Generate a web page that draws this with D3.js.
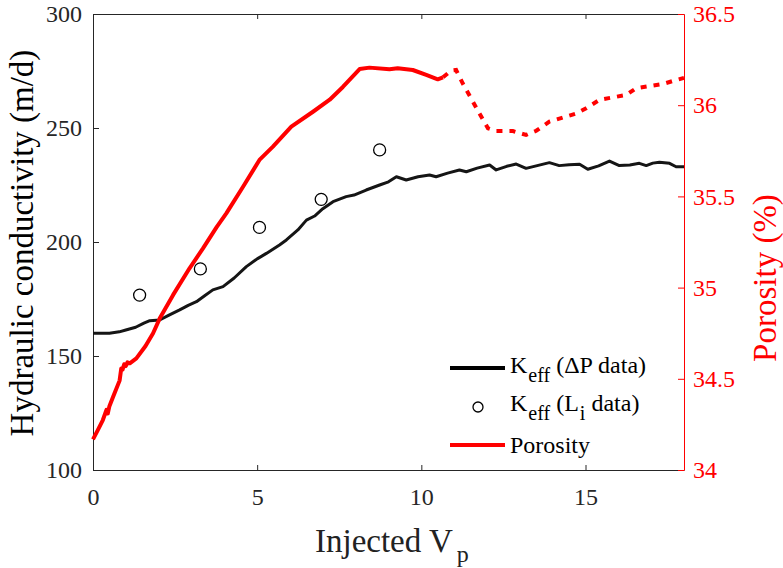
<!DOCTYPE html>
<html>
<head>
<meta charset="utf-8">
<script src="https://cdn.jsdelivr.net/npm/d3@7"></script>
</head>
<body style="margin:0">
<svg id="chart" width="783" height="568"></svg>
<script>
// Injected pore volumes vs. effective hydraulic conductivity and porosity

// K_eff from pressure-drop data: [injected Vp, K (m/d)]
const keffDP = [
  [0, 160], [0.5, 160], [0.8, 160.6], [1.0, 161.4], [1.3, 162.6], [1.55, 164.4], [1.73, 165.5],
  [2.03, 165.8], [2.3, 167.8], [2.64, 170.2], [2.9, 172.2], [3.15, 173.8], [3.4, 176.4],
  [3.65, 179], [3.96, 180.4], [4.3, 184.2], [4.67, 189.2], [5.0, 192.6], [5.28, 195],
  [5.68, 198.7], [5.89, 200.9], [6.24, 205.3], [6.5, 209.6], [6.75, 211.4], [7.0, 214.6],
  [7.31, 217.7], [7.71, 219.9], [7.95, 220.6], [8.32, 222.8], [8.73, 225], [9.0, 226.4],
  [9.24, 228.6], [9.54, 227.2], [9.9, 228.6], [10.25, 229.4], [10.45, 228.6], [10.8, 230.2],
  [11.16, 231.6], [11.37, 230.8], [11.7, 232.4], [12.08, 233.8], [12.28, 231.6],
  [12.6, 233.2], [12.89, 234.2], [13.19, 232.3], [13.5, 233.4], [13.9, 234.8], [14.2, 233.5],
  [14.5, 233.9], [14.82, 234.1], [15.07, 231.9], [15.4, 233.4], [15.73, 235.5], [16.03, 233.5],
  [16.35, 233.8], [16.64, 234.5], [16.85, 233.5], [17.05, 234.6], [17.25, 235], [17.56, 234.5],
  [17.76, 233], [18, 233]
];

// K_eff from L_i data: [injected Vp, K (m/d)]
const keffLi = [
  [1.42, 176.7], [3.27, 188.2], [5.07, 206.4], [6.95, 218.7], [8.73, 240.4]
];

// Porosity, measured segment: [injected Vp, porosity (%)]
const porosityMeasured = [
  [0, 34.168], [0.15, 34.22], [0.30, 34.274], [0.41, 34.33], [0.45, 34.31], [0.5, 34.35],
  [0.61, 34.40], [0.81, 34.49], [0.86, 34.557], [0.9, 34.55], [0.95, 34.58], [1.0, 34.57],
  [1.05, 34.59], [1.12, 34.585], [1.32, 34.612], [1.6, 34.68], [1.83, 34.75], [2.03, 34.83],
  [2.44, 34.96], [2.94, 35.106], [3.35, 35.215], [3.76, 35.33], [4.06, 35.407],
  [4.57, 35.553], [5.07, 35.70], [5.48, 35.773], [6.04, 35.882], [6.70, 35.964],
  [7.21, 36.03], [7.61, 36.10], [8.12, 36.198], [8.42, 36.206], [9.03, 36.197],
  [9.28, 36.202], [9.74, 36.193], [10.15, 36.166], [10.50, 36.142], [10.66, 36.153]
];

// Porosity, later segment (dotted): [injected Vp, porosity (%)]
const porosityLater = [
  [10.66, 36.153], [10.91, 36.19], [11.06, 36.193], [11.26, 36.12], [11.77, 35.955],
  [12.03, 35.873], [12.28, 35.858], [12.79, 35.858], [13.19, 35.837], [13.50, 35.86],
  [13.9, 35.91], [14.72, 35.955], [15.02, 35.983], [15.43, 36.03], [16.24, 36.056],
  [16.54, 36.093], [17.35, 36.116], [17.76, 36.138], [18, 36.15]
];

const xTicks = [0, 5, 10, 15];
const yLeftTicks = [100, 150, 200, 250, 300];
const yRightTicks = [34, 34.5, 35, 35.5, 36, 36.5];

const RED = "#ff0000";
const AXIS = "#262626";
const FONT = "Liberation Serif";

const svg = d3.select("#chart");
const plotL = 93, plotR = 684, plotT = 14, plotB = 470;

const x = d3.scaleLinear().domain([0, 18]).range([plotL, plotR]);
const yL = d3.scaleLinear().domain([100, 300]).range([plotB, plotT]);
const yR = d3.scaleLinear().domain([34, 36.5]).range([plotB, plotT]);

// Every text element gets the serif family directly
function serif(sel, size) {
  return sel.attr("font-family", FONT).style("font-family", FONT).style("font-size", size + "px");
}

// Axes (ticks point inward)
const fmt = d => String(d);
const xAxis = d3.axisBottom(x).tickValues(xTicks).tickFormat(fmt).tickSizeInner(-5).tickSizeOuter(0).tickPadding(18);
const xTop = d3.axisTop(x).tickValues(xTicks).tickFormat("").tickSizeInner(-5).tickSizeOuter(0);
const yAxisL = d3.axisLeft(yL).tickValues(yLeftTicks).tickFormat(fmt).tickSizeInner(-6).tickSizeOuter(0).tickPadding(11);
const yAxisR = d3.axisRight(yR).tickValues(yRightTicks).tickFormat(fmt).tickSizeInner(-6).tickSizeOuter(0).tickPadding(9);

function styleAxis(g, color) {
  g.attr("font-family", null).attr("font-size", null);
  g.selectAll("path").attr("stroke", color).attr("stroke-width", 1);
  g.selectAll("line").attr("stroke", color).attr("stroke-width", 1);
  serif(g.selectAll("text"), 24).attr("fill", color);
}

svg.append("g").attr("transform", `translate(0,${plotB})`).call(xAxis).call(g => styleAxis(g, AXIS));
svg.append("g").attr("transform", `translate(0,${plotT})`).call(xTop).call(g => styleAxis(g, AXIS));
svg.append("g").attr("transform", `translate(${plotL},0)`).call(yAxisL).call(g => styleAxis(g, AXIS));
svg.append("g").attr("transform", `translate(${plotR},0)`).call(yAxisR).call(g => styleAxis(g, RED));

// Axis titles
svg.append("text")
  .attr("transform", `translate(33,${(plotT + plotB) / 2 + 1}) rotate(-90)`)
  .attr("text-anchor", "middle")
  .attr("fill", "#000")
  .call(serif, 33)
  .text("Hydraulic conductivity (m/d)");

svg.append("text")
  .attr("transform", `translate(776,${(plotT + plotB) / 2 + 36}) rotate(-90)`)
  .attr("text-anchor", "middle")
  .attr("fill", RED)
  .call(serif, 33)
  .text("Porosity (%)");

const xt = svg.append("text")
  .attr("x", 315).attr("y", 552)
  .attr("fill", "#222")
  .call(serif, 33);
xt.append("tspan").text("Injected V");
xt.append("tspan").attr("dx", 4).attr("dy", 10).style("font-size", "24px").text("p");

// Data marks
const lineL = d3.line().x(d => x(d[0])).y(d => yL(d[1]));
const lineR = d3.line().x(d => x(d[0])).y(d => yR(d[1]));

svg.append("path").datum(keffDP)
  .attr("d", lineL).attr("fill", "none")
  .attr("stroke", "#151515").attr("stroke-width", 3).attr("stroke-linejoin", "round");

svg.append("path").datum(porosityMeasured)
  .attr("d", lineR).attr("fill", "none")
  .attr("stroke", RED).attr("stroke-width", 4).attr("stroke-linejoin", "round");

svg.append("path").datum(porosityLater)
  .attr("d", lineR).attr("fill", "none")
  .attr("stroke", RED).attr("stroke-width", 4).attr("stroke-dasharray", "6,7");

svg.append("g").selectAll("circle").data(keffLi).join("circle")
  .attr("cx", d => x(d[0])).attr("cy", d => yL(d[1])).attr("r", 6)
  .attr("fill", "none").attr("stroke", "#000").attr("stroke-width", 1.3);

// Legend
const lg = svg.append("g").attr("fill", "#000");
lg.append("line").attr("x1", 450).attr("x2", 505).attr("y1", 368).attr("y2", 368)
  .attr("stroke", "#000").attr("stroke-width", 4);
const t1 = lg.append("text").attr("x", 510).attr("y", 373).call(serif, 24);
t1.append("tspan").text("K");
t1.append("tspan").attr("dx", 1).attr("dy", 9).style("font-size", "20px").text("eff");
t1.append("tspan").attr("dy", -9).text(" (\u0394P data)");

lg.append("circle").attr("cx", 478).attr("cy", 407).attr("r", 5)
  .attr("fill", "none").attr("stroke", "#000").attr("stroke-width", 1.3);
const t2 = lg.append("text").attr("x", 510).attr("y", 411).call(serif, 24);
t2.append("tspan").text("K");
t2.append("tspan").attr("dx", 1).attr("dy", 9).style("font-size", "20px").text("eff");
t2.append("tspan").attr("dy", -9).text(" (L");
t2.append("tspan").attr("dx", 1).attr("dy", 9).style("font-size", "20px").text("i");
t2.append("tspan").attr("dy", -9).text(" data)");

lg.append("line").attr("x1", 450).attr("x2", 505).attr("y1", 445).attr("y2", 445)
  .attr("stroke", RED).attr("stroke-width", 4);
lg.append("text").attr("x", 510).attr("y", 453).call(serif, 24).text("Porosity");
</script>
</body>
</html>
